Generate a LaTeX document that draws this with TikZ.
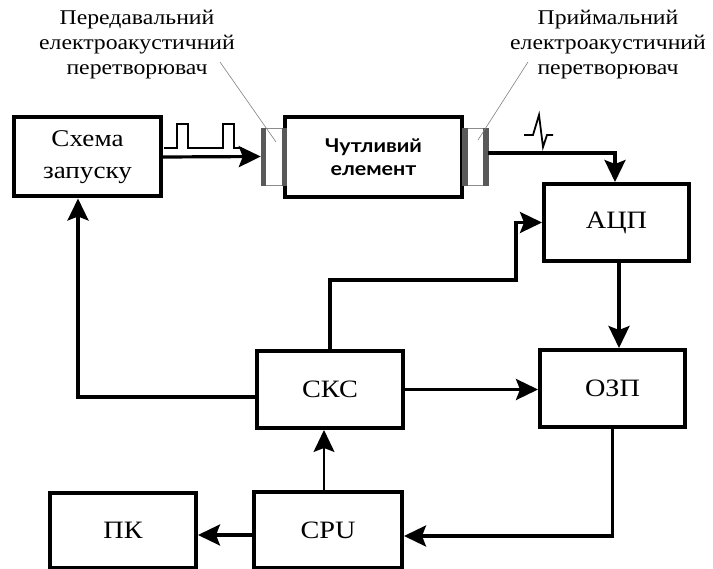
\documentclass[tikz,border=0pt]{standalone}
\usepackage{fontspec}
\setmainfont{Liberation Serif}
\newfontfamily\wideserif[FakeStretch=1.13]{Liberation Serif}
\newfontfamily\sefont[FakeStretch=1.13]{Lato}
\usetikzlibrary{arrows.meta,positioning,calc}
\tikzset{
  blk/.style={draw, line width=4pt, minimum width=#1, inner sep=0pt, align=center},
  bfont/.style={font=\wideserif\fontsize{25}{30}\selectfont},
  tip/.style={-{Stealth[length=22pt,width=21pt,inset=4pt]}},
  arr/.style={line width=3.2pt, tip},
  sig/.style={line width=1.8pt},
  lead/.style={draw=gray, line width=0.6pt},
  lbl/.style={font=\wideserif\fontsize{21}{25}\selectfont, align=center},
  dbar/.style={fill=black!65, draw=black!65, line width=0.3pt},
  lbox/.style={fill=white, draw=black!45, line width=0.8pt}
}
\begin{document}
\begin{tikzpicture}[x=1pt,y=-1pt]
\useasboundingbox (0,0) rectangle (713,569);
% blocks
\node[blk=147pt, minimum height=79pt, font=\wideserif\fontsize{24}{32}\selectfont] (skh) at (87.5,157) {Схема\\запуску};
\node[blk=177pt, minimum height=80pt, font=\sefont\bfseries\fontsize{19}{23}\selectfont] (se) at (373.5,157) {Чутливий\\елемент};
\node[blk=145pt, bfont, minimum height=77pt] (adc) at (616.5,222.5) {АЦП};
\node[blk=145pt, bfont, minimum height=77pt] (ozp) at (612.5,388.5) {ОЗП};
\node[blk=146pt, bfont, minimum height=77pt] (skc) at (330,389.5) {СКС};
\node[blk=148pt, bfont, minimum height=76pt] (cpu) at (328,530) {CPU};
\node[blk=146pt, bfont, minimum height=75pt] (pk) at (123,530.5) {ПК};
% transducers
\node[minimum width=25pt, minimum height=57pt, inner sep=0pt] (tl) at (273.5,156.5) {};
\node[minimum width=26pt, minimum height=57pt, inner sep=0pt] (tr) at (475,156.5) {};
\draw[lbox] (265,128) rectangle (282,185);
\draw[dbar] (261,128) rectangle (265,185);
\draw[dbar] (282,128) rectangle (286,185);
\draw[lbox] (467,128) rectangle (483,185);
\draw[dbar] (462,128) rectangle (467,185);
\draw[dbar] (483,128) rectangle (488,185);
% labels
\node[lbl] (lt) at (137,45) {Передавальний\\електроакустичний\\перетворювач};
\node[lbl] (rt) at (608,45) {Приймальний\\електроакустичний\\перетворювач};
\coordinate (lte) at (220,62);
\coordinate (rte) at (528,62);
\draw[lead] (lte) -- (276,142);
\draw[lead] (rte) -- (478,140);
% signals
\draw[sig] (164,148) -- (177,148) -- (177,124) -- (188,124) -- (188,148) -- (223,148) -- (223,124) -- (234,124) -- (234,148) -- (242,148);
\draw[sig] (524,135) -- (533,135) -- (539,115) -- (543,147) -- (547,135) -- (553,135);
% connectors
\draw[arr] (skh.east) -- (tl.west);
\draw[arr] ([yshift=3.5pt]tr.east) -| ([xshift=-1.5pt]adc.north);
\draw[arr] ([xshift=2.5pt]adc.south) -- ([xshift=2.5pt]adc.south |- ozp.north);
\coordinate (k1) at (516,280);
\draw[arr] (skc.north) |- (k1) |- (adc.west);
\draw[arr] ([yshift=-7.5pt]skc.west) -| ([xshift=-9.5pt]skh.south);
\draw[arr] (skc.east) -- (skc.east -| ozp.west);
\draw[line width=1.5pt, tip] ([xshift=-4pt]cpu.north) -- ([xshift=-4pt]cpu.north |- skc.south);
\draw[arr] (ozp.south) |- ([yshift=-6pt]cpu.east);
\draw[arr] ([yshift=-5pt]cpu.west) -- ([yshift=-5pt]cpu.west -| pk.east);
\end{tikzpicture}
\end{document}
